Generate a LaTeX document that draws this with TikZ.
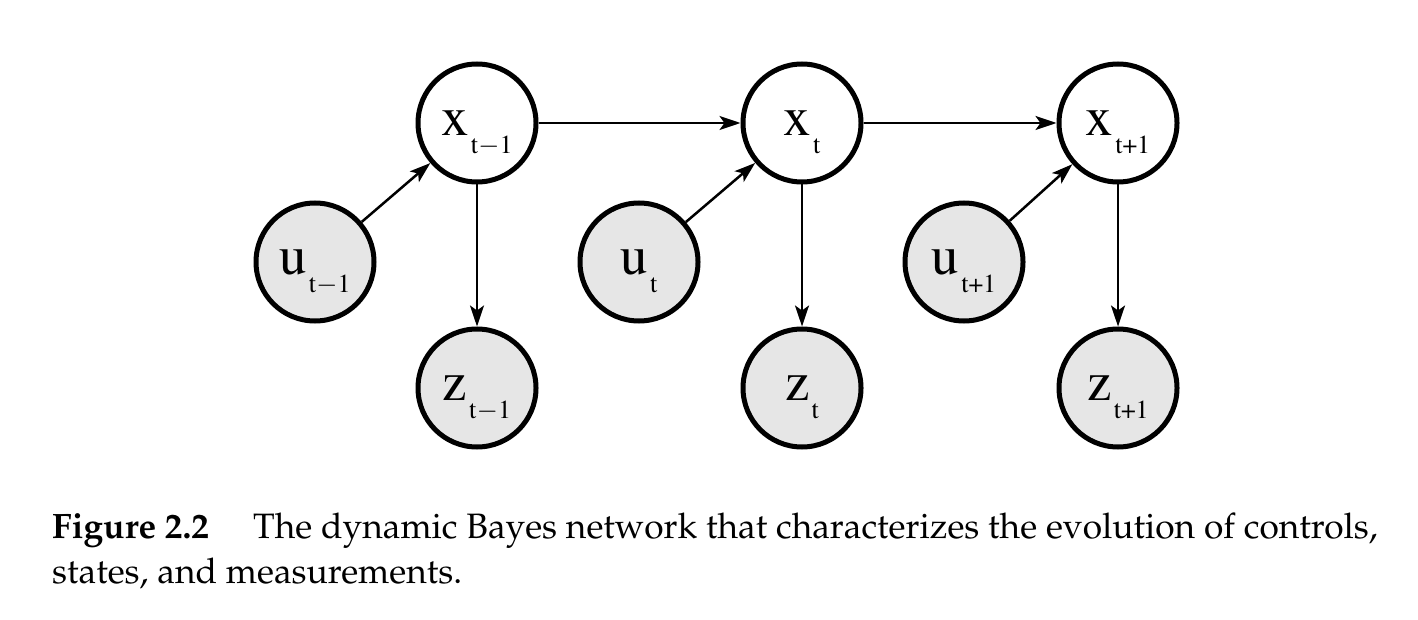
\documentclass[tikz,border=0pt]{standalone}
\usepackage[T1]{fontenc}
\usepackage{mathpazo}
\usetikzlibrary{arrows.meta}
\definecolor{nodegray}{RGB}{230,230,230}
\tikzset{
  statevar/.style={circle, draw=black, line width=5pt, minimum size=118pt, inner sep=0pt, fill=white},
  obsvar/.style={statevar, fill=nodegray},
  edgearrow/.style={line width=2.5pt, -{Stealth[length=21pt,width=14pt,inset=5pt]}},
  captext/.style={inner sep=0pt, anchor=base west, font=\fontsize{35.3}{42}\selectfont}
}
\newcommand{\varlabel}[2]{{\fontfamily{ptm}\fontsize{55}{55}\selectfont #1\kern2pt}\smash{\raisebox{-18pt}{\fontfamily{ptm}\fontsize{26}{26}\selectfont #2}}}
\begin{document}
\begin{tikzpicture}[x=1pt,y=-1pt]
\useasboundingbox (0,0) rectangle (1418,620);
% states
\node[statevar] (x1) at (477,123) {\varlabel{x}{t$-$1}};
\node[statevar] (x2) at (802,123) {\varlabel{x}{t}};
\node[statevar] (x3) at (1118,123) {\varlabel{x}{t+1}};
% controls
\node[obsvar] (u1) at (315,262) {\varlabel{u}{t$-$1}};
\node[obsvar] (u2) at (639,262) {\varlabel{u}{t}};
\node[obsvar] (u3) at (964,262) {\varlabel{u}{t+1}};
% measurements
\node[obsvar] (z1) at (477,388) {\varlabel{z}{t$-$1}};
\node[obsvar] (z2) at (802,388) {\varlabel{z}{t}};
\node[obsvar] (z3) at (1118,388) {\varlabel{z}{t+1}};
% edges
\draw[edgearrow] (x1) -- (x2);
\draw[edgearrow] (x2) -- (x3);
\draw[edgearrow] (u1) -- (x1);
\draw[edgearrow] (u2) -- (x2);
\draw[edgearrow] (u3) -- (x3);
\draw[edgearrow] (x1) -- (z1);
\draw[edgearrow] (x2) -- (z2);
\draw[edgearrow] (x3) -- (z3);
% caption
\node[captext] (capfig) at (52,538) {\textbf{Figure 2.2}};
\node[captext] (capl1) at (253,538) {The dynamic Bayes network that characterizes the evolution of controls,};
\node[captext] (capl2) at (52,583) {states, and measurements.};
\end{tikzpicture}
\end{document}
